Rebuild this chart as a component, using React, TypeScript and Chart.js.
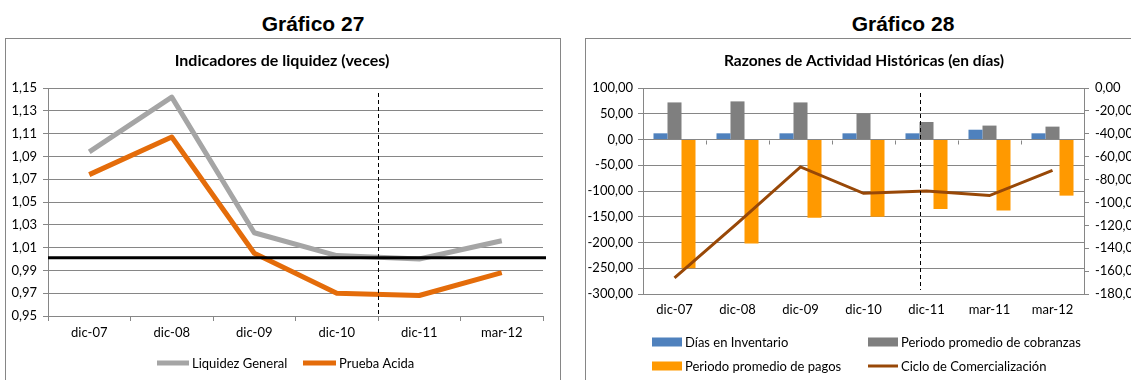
import React, { useEffect, useRef } from 'react';
import { Chart, registerables } from 'chart.js';

Chart.register(...registerables);

// ---------- Data: Gráfico 27 ----------
const liqCategories = ['dic-07', 'dic-08', 'dic-09', 'dic-10', 'dic-11', 'mar-12'];
const liquidezGeneral = [1.094, 1.142, 1.023, 1.003, 1.0, 1.016];
const pruebaAcida = [1.074, 1.107, 1.005, 0.97, 0.968, 0.988];
const liqReferenceLevel = 1.001;
const liqAxisMin = 0.95;
const liqAxisMax = 1.15;
const liqAxisStep = 0.02;

// ---------- Data: Gráfico 28 ----------
const actCategories = ['dic-07', 'dic-08', 'dic-09', 'dic-10', 'dic-11', 'mar-11', 'mar-12'];
const diasInventario = [12, 12, 12, 12, 12, 19, 12];
const periodoCobranzas = [72, 74, 72, 50, 34, 27, 25];
const periodoPagos = [-250, -202, -152, -150, -135, -138, -109];
const cicloComercializacion = [-166, -118, -69, -92, -90, -94, -72];
const actLeftMin = -300;
const actLeftMax = 100;
const actLeftStep = 50;
const actRightMin = -180;
const actRightMax = 0;
const actRightStep = 20;

const FONT = 'Lato, "Open Sans", sans-serif';
const GRID = '#868686';
const fmt = (v: number) => Number(v).toFixed(2).replace('.', ',');

const decorPlugin = {
  id: 'decor',
  beforeDatasetsDraw(chart: any, _a: any, opts: any) {
    if (!opts || !opts.zeroTicks) return;
    const ctx = chart.ctx;
    const x = chart.scales.x;
    const y = chart.scales[opts.zeroTicks.axis];
    const zy = Math.round(y.getPixelForValue(0)) + 0.5;
    ctx.save();
    ctx.strokeStyle = GRID;
    ctx.lineWidth = 1;
    ctx.beginPath();
    for (let k = 0; k <= chart.data.labels.length; k++) {
      const px = Math.round(x.getPixelForValue(k - 0.5)) + 0.5;
      ctx.moveTo(px, zy);
      ctx.lineTo(px, zy + opts.zeroTicks.length);
    }
    ctx.stroke();
    ctx.restore();
  },
  afterDatasetsDraw(chart: any, _a: any, opts: any) {
    if (!opts) return;
    const ctx = chart.ctx;
    const area = chart.chartArea;
    if (opts.hLine) {
      const yy = chart.scales[opts.hLine.axis].getPixelForValue(opts.hLine.value);
      ctx.save();
      ctx.strokeStyle = opts.hLine.color;
      ctx.lineWidth = opts.hLine.width;
      ctx.beginPath();
      ctx.moveTo(area.left, yy);
      ctx.lineTo(area.right + opts.hLine.extend, yy);
      ctx.stroke();
      ctx.restore();
    }
    if (opts.divider) {
      const px = Math.round(chart.scales.x.getPixelForValue(opts.divider.value)) + 0.5;
      ctx.save();
      ctx.strokeStyle = '#000';
      ctx.lineWidth = 1;
      ctx.setLineDash([4, 3]);
      ctx.beginPath();
      ctx.moveTo(px, area.top + opts.divider.top);
      ctx.lineTo(px, area.bottom - opts.divider.bottom);
      ctx.stroke();
      ctx.restore();
    }
  },
  afterDraw(chart: any, _a: any, opts: any) {
    if (!opts) return;
    const ctx = chart.ctx;
    if (opts.title) {
      ctx.save();
      ctx.fillStyle = '#000';
      ctx.font = opts.title.font;
      ctx.textAlign = 'center';
      ctx.textBaseline = 'middle';
      ctx.fillText(opts.title.text, opts.title.x, opts.title.y);
      ctx.restore();
    }
    if (opts.legend) {
      ctx.save();
      ctx.font = opts.legend.font;
      ctx.textBaseline = 'middle';
      ctx.textAlign = 'left';
      for (const it of opts.legend.items) {
        if (it.type === 'box') {
          ctx.fillStyle = it.color;
          ctx.fillRect(it.x, it.y - it.h / 2, it.w, it.h);
        } else {
          ctx.strokeStyle = it.color;
          ctx.lineWidth = it.h;
          ctx.beginPath();
          ctx.moveTo(it.x, it.y);
          ctx.lineTo(it.x + it.w, it.y);
          ctx.stroke();
        }
        ctx.fillStyle = '#000';
        ctx.fillText(it.label, it.x + it.w + 3, it.y + 0.5);
      }
      ctx.restore();
    }
  },
};
Chart.register(decorPlugin as any);

export default function App() {
  const leftRef = useRef<HTMLCanvasElement>(null);
  const rightRef = useRef<HTMLCanvasElement>(null);

  useEffect(() => {
    const tickFont = { family: FONT, size: 13 };
    const c1 = new Chart(leftRef.current as HTMLCanvasElement, {
      type: 'line',
      data: {
        labels: liqCategories,
        datasets: [
          {
            label: 'Liquidez General',
            data: liquidezGeneral,
            borderColor: '#A5A5A5',
            backgroundColor: '#A5A5A5',
            borderWidth: 5,
            pointRadius: 0,
            borderJoinStyle: 'round',
            tension: 0,
          },
          {
            label: 'Prueba Acida',
            data: pruebaAcida,
            borderColor: '#E46C0A',
            backgroundColor: '#E46C0A',
            borderWidth: 5,
            pointRadius: 0,
            borderJoinStyle: 'round',
            tension: 0,
          },
        ],
      },
      options: {
        animation: false,
        responsive: false,
        maintainAspectRatio: false,
        layout: { padding: { left: 0, right: 17, top: 49, bottom: 0 } },
        plugins: {
          legend: { display: false },
          title: { display: false },
          tooltip: { enabled: false },
          decor: {
            title: { text: 'Indicadores de liquidez (veces)', font: `bold 16px ${FONT}`, x: 276, y: 22 },
            hLine: { axis: 'y', value: liqReferenceLevel, color: '#000', width: 3, extend: 3 },
            divider: { value: 3.5, top: 5, bottom: 0 },
            legend: {
              font: `13px ${FONT}`,
              items: [
                { type: 'line', color: '#A5A5A5', label: 'Liquidez General', x: 151, y: 324, w: 32, h: 5 },
                { type: 'line', color: '#E46C0A', label: 'Prueba Acida', x: 297, y: 324, w: 33, h: 5 },
              ],
            },
          },
        } as any,
        scales: {
          x: {
            offset: true,
            grid: { display: true, drawOnChartArea: false, drawTicks: true, tickLength: 5, color: GRID, offset: true },
            border: { display: true, color: GRID },
            ticks: { font: tickFont, color: '#000', padding: 4, maxRotation: 0, autoSkip: false },
            afterFit: (s: any) => { s.height = 64; },
          },
          y: {
            min: liqAxisMin,
            max: liqAxisMax,
            ticks: { stepSize: liqAxisStep, font: tickFont, color: '#000', padding: 6, callback: (v: any) => fmt(v) },
            grid: { color: GRID, tickLength: 5 },
            border: { color: GRID },
            afterFit: (s: any) => { s.width = 42; },
          },
        },
      } as any,
    });

    const c2 = new Chart(rightRef.current as HTMLCanvasElement, {
      type: 'bar',
      data: {
        labels: actCategories,
        datasets: [
          {
            type: 'line',
            label: 'Ciclo de Comercialización',
            data: cicloComercializacion,
            yAxisID: 'y2',
            borderColor: '#984807',
            backgroundColor: '#984807',
            borderWidth: 3,
            pointRadius: 0,
            tension: 0,
            order: 0,
          },
          {
            label: 'Días en Inventario',
            data: diasInventario,
            yAxisID: 'y',
            backgroundColor: '#4F81BD',
            categoryPercentage: 0.667,
            barPercentage: 1,
            order: 1,
          },
          {
            label: 'Periodo promedio de cobranzas',
            data: periodoCobranzas,
            yAxisID: 'y',
            backgroundColor: '#7F7F7F',
            categoryPercentage: 0.667,
            barPercentage: 1,
            order: 1,
          },
          {
            label: 'Periodo promedio de pagos',
            data: periodoPagos,
            yAxisID: 'y',
            backgroundColor: '#FF9900',
            categoryPercentage: 0.667,
            barPercentage: 1,
            order: 1,
          },
        ] as any,
      },
      options: {
        animation: false,
        responsive: false,
        maintainAspectRatio: false,
        layout: { padding: { left: 0, right: 0, top: 49, bottom: 0 } },
        plugins: {
          legend: { display: false },
          title: { display: false },
          tooltip: { enabled: false },
          decor: {
            title: { text: 'Razones de Actividad Históricas (en días)', font: `bold 15.5px ${FONT}`, x: 278, y: 22 },
            divider: { value: 3.9, top: 5, bottom: 4 },
            zeroTicks: { axis: 'y', length: 4 },
            legend: {
              font: `13px ${FONT}`,
              items: [
                { type: 'box', color: '#4F81BD', label: 'Días en Inventario', x: 66, y: 303, w: 30, h: 9 },
                { type: 'box', color: '#7F7F7F', label: 'Periodo promedio de cobranzas', x: 282, y: 303, w: 30, h: 9 },
                { type: 'box', color: '#FF9900', label: 'Periodo promedio de pagos', x: 66, y: 327, w: 30, h: 9 },
                { type: 'line', color: '#984807', label: 'Ciclo de Comercialización', x: 282, y: 327, w: 30, h: 3 },
              ],
            },
          },
        } as any,
        scales: {
          x: {
            grid: { display: false, drawTicks: false, tickLength: 0 },
            border: { display: false },
            ticks: { font: tickFont, color: '#000', padding: 8, maxRotation: 0, autoSkip: false },
            afterFit: (s: any) => { s.height = 86; },
          },
          y: {
            position: 'left',
            min: actLeftMin,
            max: actLeftMax,
            ticks: { stepSize: actLeftStep, font: tickFont, color: '#000', padding: 5, callback: (v: any) => fmt(v) },
            grid: { color: GRID, tickLength: 5 },
            border: { color: GRID },
            afterFit: (s: any) => { s.width = 57; },
          },
          y2: {
            position: 'right',
            min: actRightMin,
            max: actRightMax,
            ticks: { stepSize: actRightStep, font: tickFont, color: '#000', padding: 6, callback: (v: any) => fmt(v) },
            grid: { drawOnChartArea: false, color: GRID, tickLength: 5 },
            border: { color: GRID },
            afterFit: (s: any) => { s.width = 56; },
          },
        },
      } as any,
    });

    return () => {
      c1.destroy();
      c2.destroy();
    };
  }, []);

  const heading: React.CSSProperties = {
    position: 'absolute',
    top: 12,
    width: 200,
    textAlign: 'center',
    fontFamily: '"Liberation Sans", Arial, sans-serif',
    fontWeight: 'bold',
    fontSize: 21,
    lineHeight: '24px',
    color: '#000',
  };

  return (
    <div style={{ position: 'fixed', left: 0, top: 0, width: 1131, height: 380, overflow: 'hidden', background: '#fff' }}>
      <div style={{ ...heading, left: 213 }}>Gráfico 27</div>
      <div style={{ ...heading, left: 803 }}>Gráfico 28</div>
      <div style={{ position: 'absolute', left: 5, top: 38, width: 556, height: 400, border: `1px solid ${GRID}`, boxSizing: 'border-box' }} />
      <div style={{ position: 'absolute', left: 585, top: 38, width: 556, height: 400, border: `1px solid ${GRID}`, boxSizing: 'border-box' }} />
      <canvas ref={leftRef} width={554} height={341} style={{ position: 'absolute', left: 6, top: 39, display: 'block' }} />
      <canvas ref={rightRef} width={554} height={341} style={{ position: 'absolute', left: 586, top: 39, display: 'block' }} />
    </div>
  );
}
